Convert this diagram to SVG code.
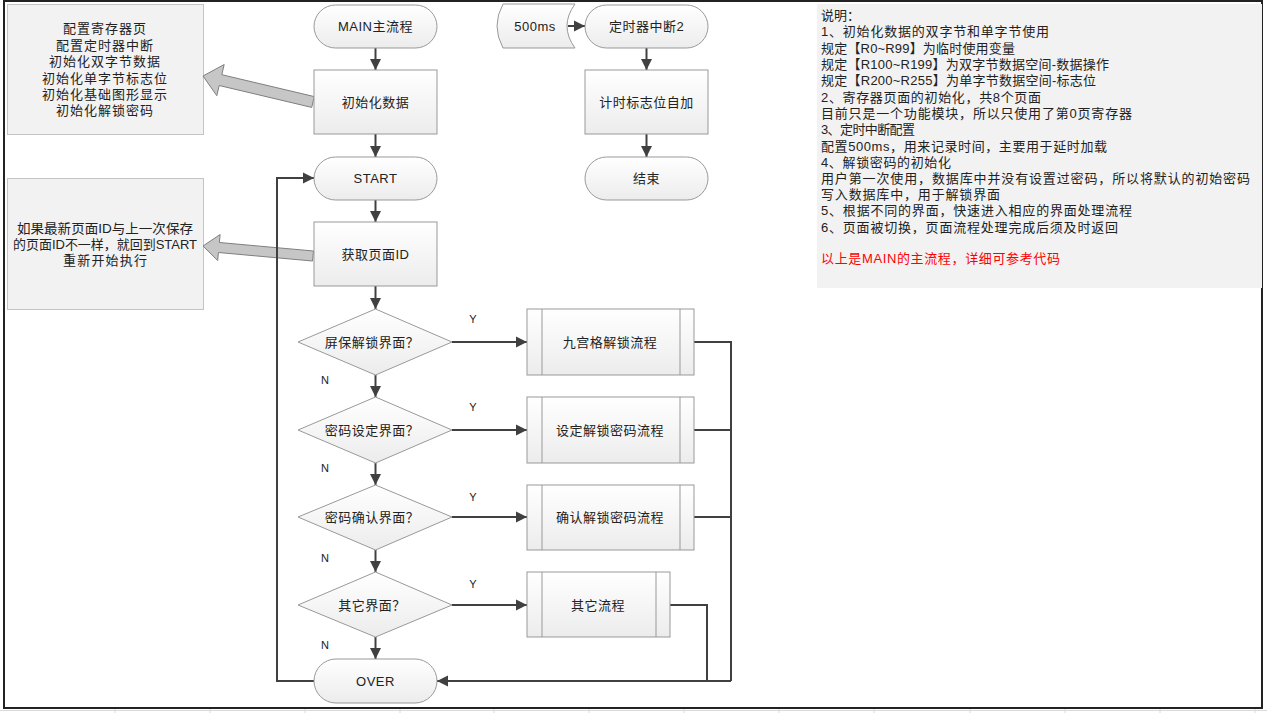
<svg xmlns="http://www.w3.org/2000/svg" width="1267" height="713" viewBox="0 0 1267 713">
<defs>
<linearGradient id="g" x1="0" y1="0" x2="0" y2="1"><stop offset="0" stop-color="#ffffff"/><stop offset="1" stop-color="#ececec"/></linearGradient>
<marker id="ah" markerUnits="userSpaceOnUse" markerWidth="12" markerHeight="12" refX="11" refY="6" orient="auto"><path d="M0,0.5 L11,6 L0,11.5 z" fill="#404040"/></marker>
<style>
.t{font-family:"Liberation Sans","Noto Sans CJK SC",sans-serif;font-size:13px;fill:#222;text-anchor:middle;dominant-baseline:central;letter-spacing:0.5px}
.cl{letter-spacing:1px}
.n{font-family:"Liberation Sans","Noto Sans CJK SC",sans-serif;font-size:13px;fill:#222;dominant-baseline:central}
.yn{font-family:"Liberation Sans",sans-serif;font-size:11px;fill:#222;text-anchor:middle;dominant-baseline:central}
.shape{fill:url(#g);stroke:#999;stroke-width:1}
.call{fill:#f2f2f2;stroke:#c4c4c4;stroke-width:1}
.blk{fill:#c6c6c6;stroke:#7f7f7f;stroke-width:1}
.c{fill:none;stroke:#404040;stroke-width:2}
.grid{stroke:#d9d9d9;stroke-width:1}
</style>
</defs>
<rect width="1267" height="713" fill="#fff"/>
<g id="grid">
<line class="grid" x1="0" y1="710.5" x2="1267" y2="710.5"/>
<line class="grid" x1="305" y1="709" x2="305" y2="713"/><line class="grid" x1="400" y1="709" x2="400" y2="713"/><line class="grid" x1="494" y1="709" x2="494" y2="713"/><line class="grid" x1="589" y1="709" x2="589" y2="713"/><line class="grid" x1="684" y1="709" x2="684" y2="713"/><line class="grid" x1="779" y1="709" x2="779" y2="713"/><line class="grid" x1="874" y1="709" x2="874" y2="713"/><line class="grid" x1="970" y1="709" x2="970" y2="713"/><line class="grid" x1="1065" y1="709" x2="1065" y2="713"/><line class="grid" x1="1160" y1="709" x2="1160" y2="713"/><line class="grid" x1="1255" y1="709" x2="1255" y2="713"/><line class="grid" x1="115" y1="709" x2="115" y2="713"/><line class="grid" x1="210" y1="709" x2="210" y2="713"/>
</g>
<rect id="frame" x="4" y="1" width="1258" height="707" fill="none" stroke="#222" stroke-width="2"/>

<g id="note1">
<rect class="call" x="7.5" y="4.5" width="196" height="130"/>
<text class="t cl" x="105" y="28">配置寄存器页</text>
<text class="t cl" x="105" y="45">配置定时器中断</text>
<text class="t cl" x="105" y="61">初始化双字节数据</text>
<text class="t cl" x="105" y="78">初始化单字节标志位</text>
<text class="t cl" x="105" y="94">初始化基础图形显示</text>
<text class="t cl" x="105" y="110">初始化解锁密码</text>
</g>
<g id="note2">
<rect class="call" x="7.5" y="178.5" width="196" height="131"/>
<text class="n" x="17" y="228" textLength="176" lengthAdjust="spacingAndGlyphs">如果最新页面ID与上一次保存</text>
<text class="n" x="13" y="244" textLength="184" lengthAdjust="spacingAndGlyphs">的页面ID不一样，就回到START</text>
<text class="n" x="63" y="260" textLength="84" lengthAdjust="spacing">重新开始执行</text>
</g>
<g id="callout-arrows">
<polygon class="blk" points="203,76 224.2,64.5 221.8,74.7 314.3,96.6 311.7,107.4 219.2,85.5 216.8,95.7"/>
<polygon class="blk" points="203,246 220.1,234.5 219.4,242.5 313.5,251 312.5,261 218.4,252.5 217.7,260.5"/>
</g>

<g id="notes">
<rect x="817" y="4" width="445" height="284" fill="#f2f2f2"/>
<text class="n" x="821" y="15">说明：</text>
<text class="n" x="821" y="31" textLength="228" lengthAdjust="spacing">1、初始化数据的双字节和单字节使用</text>
<text class="n" x="821" y="48" textLength="194" lengthAdjust="spacing">规定【R0~R99】为临时使用变量</text>
<text class="n" x="821" y="64" textLength="288" lengthAdjust="spacing">规定【R100~R199】为双字节数据空间-数据操作</text>
<text class="n" x="821" y="80" textLength="275" lengthAdjust="spacing">规定【R200~R255】为单字节数据空间-标志位</text>
<text class="n" x="821" y="97" textLength="220" lengthAdjust="spacing">2、寄存器页面的初始化，共8个页面</text>
<text class="n" x="821" y="113" textLength="311" lengthAdjust="spacing">目前只是一个功能模块，所以只使用了第0页寄存器</text>
<text class="n" x="821" y="129" textLength="94" lengthAdjust="spacing">3、定时中断配置</text>
<text class="n" x="821" y="146" textLength="286" lengthAdjust="spacing">配置500ms，用来记录时间，主要用于延时加载</text>
<text class="n" x="821" y="162" textLength="130" lengthAdjust="spacing">4、解锁密码的初始化</text>
<text class="n" x="821" y="178" textLength="429" lengthAdjust="spacing">用户第一次使用，数据库中并没有设置过密码，所以将默认的初始密码</text>
<text class="n" x="821" y="194" textLength="179" lengthAdjust="spacing">写入数据库中，用于解锁界面</text>
<text class="n" x="821" y="210" textLength="311" lengthAdjust="spacing">5、根据不同的界面，快速进入相应的界面处理流程</text>
<text class="n" x="821" y="227" textLength="297" lengthAdjust="spacing">6、页面被切换，页面流程处理完成后须及时返回</text>
<text class="n" x="821" y="258" textLength="239" lengthAdjust="spacing" style="fill:#ff0000">以上是MAIN的主流程，详细可参考代码</text>
</g>

<g id="connectors">
<line class="c" x1="375.5" y1="48" x2="375.5" y2="70" marker-end="url(#ah)"/>
<line class="c" x1="375.5" y1="134" x2="375.5" y2="157" marker-end="url(#ah)"/>
<line class="c" x1="375.5" y1="200" x2="375.5" y2="222" marker-end="url(#ah)"/>
<line class="c" x1="375.5" y1="286" x2="375.5" y2="309" marker-end="url(#ah)"/>
<line class="c" x1="375.5" y1="375" x2="375.5" y2="397" marker-end="url(#ah)"/>
<line class="c" x1="375.5" y1="463" x2="375.5" y2="485" marker-end="url(#ah)"/>
<line class="c" x1="375.5" y1="550" x2="375.5" y2="572" marker-end="url(#ah)"/>
<line class="c" x1="375.5" y1="637" x2="375.5" y2="659" marker-end="url(#ah)"/>
<line class="c" x1="452" y1="342" x2="527" y2="342" marker-end="url(#ah)"/>
<line class="c" x1="452" y1="430" x2="527" y2="430" marker-end="url(#ah)"/>
<line class="c" x1="452" y1="517" x2="527" y2="517" marker-end="url(#ah)"/>
<line class="c" x1="452" y1="605" x2="527" y2="605" marker-end="url(#ah)"/>
<polyline class="c" points="694,342 731,342 731,681"/>
<line class="c" x1="694" y1="430" x2="731" y2="430"/>
<line class="c" x1="694" y1="517" x2="731" y2="517"/>
<polyline class="c" points="670,605 707,605 707,681"/>
<line class="c" x1="731" y1="681" x2="437" y2="681" marker-end="url(#ah)"/>
<polyline class="c" points="314,681 277,681 277,178 314,178" marker-end="url(#ah)"/>
<line class="c" x1="568" y1="26" x2="585" y2="26" marker-end="url(#ah)"/>
<line class="c" x1="646.5" y1="48" x2="646.5" y2="70" marker-end="url(#ah)"/>
<line class="c" x1="646.5" y1="134" x2="646.5" y2="157" marker-end="url(#ah)"/>
</g>

<g id="main"><rect class="shape" x="314" y="5" width="123" height="43" rx="21.5"/><text class="t" x="375.5" y="26">MAIN主流程</text></g>
<g id="init"><rect class="shape" x="314" y="70" width="123" height="64"/><text class="t" x="375.5" y="102">初始化数据</text></g>
<g id="start"><rect class="shape" x="314" y="157" width="123" height="43" rx="21.5"/><text class="t" x="375.5" y="178">START</text></g>
<g id="getid"><rect class="shape" x="314" y="222" width="123" height="64"/><text class="t" x="375.5" y="254">获取页面ID</text></g>
<g id="d1"><polygon class="shape" points="375.5,309 452,342 375.5,375 298,342"/><text class="t" x="372" y="342">屏保解锁界面？</text></g>
<g id="d2"><polygon class="shape" points="375.5,397 452,430 375.5,463 298,430"/><text class="t" x="372" y="430">密码设定界面？</text></g>
<g id="d3"><polygon class="shape" points="375.5,485 452,517 375.5,550 298,517"/><text class="t" x="372" y="517">密码确认界面？</text></g>
<g id="d4"><polygon class="shape" points="375.5,572 452,605 375.5,637 298,605"/><text class="t" x="372" y="605">其它界面？</text></g>
<g id="over"><rect class="shape" x="314" y="659" width="123" height="44" rx="22"/><text class="t" x="375.5" y="681">OVER</text></g>
<g id="p1"><rect class="shape" x="527" y="309" width="167" height="66"/><line class="shape" x1="542" y1="309" x2="542" y2="375"/><line class="shape" x1="680" y1="309" x2="680" y2="375"/><text class="t" x="610" y="342">九宫格解锁流程</text></g>
<g id="p2"><rect class="shape" x="527" y="397" width="167" height="66"/><line class="shape" x1="542" y1="397" x2="542" y2="463"/><line class="shape" x1="680" y1="397" x2="680" y2="463"/><text class="t" x="610" y="430">设定解锁密码流程</text></g>
<g id="p3"><rect class="shape" x="527" y="485" width="167" height="65"/><line class="shape" x1="542" y1="485" x2="542" y2="550"/><line class="shape" x1="680" y1="485" x2="680" y2="550"/><text class="t" x="610" y="517">确认解锁密码流程</text></g>
<g id="p4"><rect class="shape" x="527" y="572" width="143" height="65"/><line class="shape" x1="542" y1="572" x2="542" y2="637"/><line class="shape" x1="656" y1="572" x2="656" y2="637"/><text class="t" x="598" y="605">其它流程</text></g>
<g id="labels">
<text class="yn" x="473" y="319">Y</text><text class="yn" x="473" y="407">Y</text><text class="yn" x="473" y="497">Y</text><text class="yn" x="473" y="584">Y</text>
<text class="yn" x="325" y="380">N</text><text class="yn" x="325" y="468">N</text><text class="yn" x="325" y="558">N</text><text class="yn" x="325" y="645">N</text>
</g>
<g id="t500"><path class="shape" d="M503,4 L575,4 Q559,26 575,48 L503,48 Q491,26 503,4 Z"/><text class="t" x="535" y="26">500ms</text></g>
<g id="timer"><rect class="shape" x="585" y="5" width="123" height="43" rx="21.5"/><text class="t" x="646.5" y="26">定时器中断2</text></g>
<g id="tick"><rect class="shape" x="585" y="70" width="123" height="64"/><text class="t" x="646.5" y="102">计时标志位自加</text></g>
<g id="end"><rect class="shape" x="585" y="157" width="123" height="43" rx="21.5"/><text class="t" x="646.5" y="178">结束</text></g>
</svg>
